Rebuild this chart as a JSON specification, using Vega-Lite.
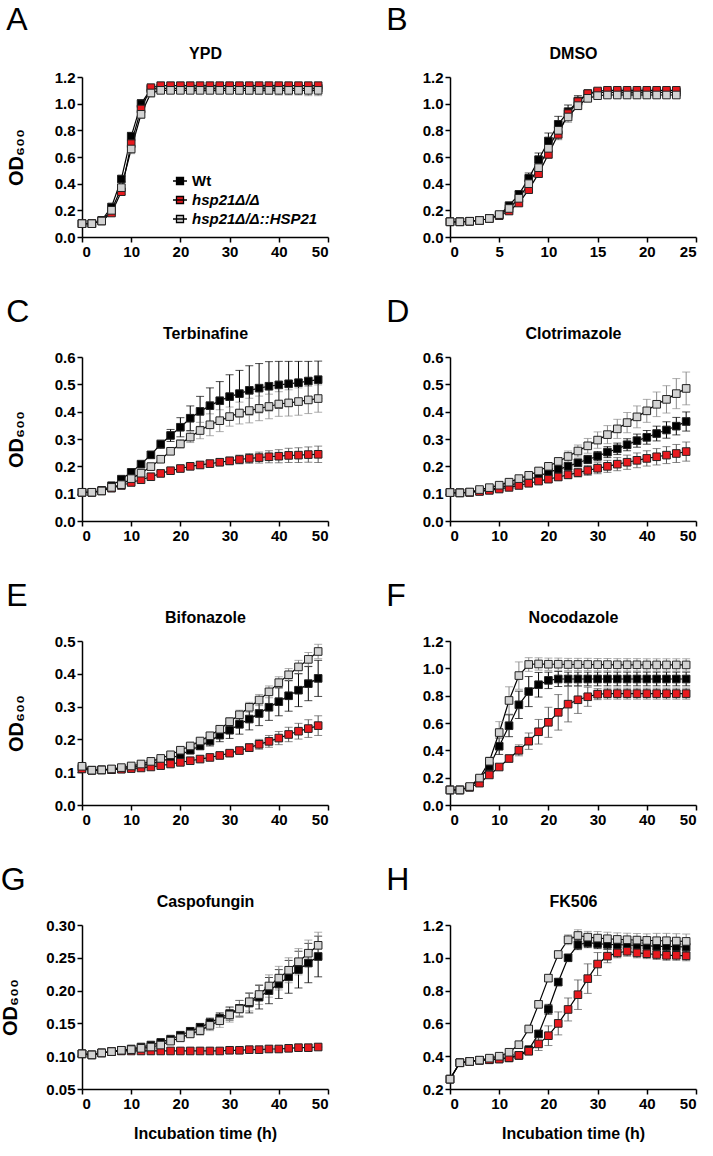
{
"$schema": "https://vega.github.io/schema/vega-lite/v6.json",
"padding": {"left": 0, "top": 4, "right": 4, "bottom": 4},
"config": {
 "font": "Liberation Sans",
 "view": {"stroke": null},
 "axis": {"grid": false, "domainColor": "#000", "domainWidth": 1.5, "tickColor": "#000", "tickWidth": 1.5, "tickSize": 5, "labelFont": "Liberation Sans", "labelFontSize": 15, "labelFontWeight": "bold", "labelColor": "#000", "labelPadding": 2, "titleFont": "Liberation Sans", "titleFontWeight": "bold", "titleColor": "#000"},
 "title": {"font": "Liberation Sans", "fontSize": 32, "fontWeight": "normal", "color": "#000", "anchor": "start", "frame": "bounds", "offset": 0},
 "tick": {"bandSize": 8, "thickness": 1}
},
"resolve": {"scale": {"fill": "independent", "color": "independent"}, "legend": {"fill": "independent", "color": "independent"}},
"data": {"values": [
{"p":"A","s":"W","t":0,"m":0.1,"e":0},{"p":"A","s":"W","t":2,"m":0.1,"e":0},{"p":"A","s":"W","t":4,"m":0.125,"e":0.005},{"p":"A","s":"W","t":6,"m":0.225,"e":0.01},{"p":"A","s":"W","t":8,"m":0.435,"e":0.02},{"p":"A","s":"W","t":10,"m":0.755,"e":0.03},{"p":"A","s":"W","t":12,"m":1.0,"e":0.03},{"p":"A","s":"W","t":14,"m":1.11,"e":0.02},{"p":"A","s":"W","t":16,"m":1.115,"e":0.01},{"p":"A","s":"W","t":18,"m":1.115,"e":0.01},{"p":"A","s":"W","t":20,"m":1.115,"e":0.01},{"p":"A","s":"W","t":22,"m":1.115,"e":0.01},{"p":"A","s":"W","t":24,"m":1.115,"e":0.01},{"p":"A","s":"W","t":26,"m":1.115,"e":0.01},{"p":"A","s":"W","t":28,"m":1.115,"e":0.012},{"p":"A","s":"W","t":30,"m":1.115,"e":0.012},{"p":"A","s":"W","t":32,"m":1.115,"e":0.014},{"p":"A","s":"W","t":34,"m":1.115,"e":0.014},{"p":"A","s":"W","t":36,"m":1.115,"e":0.015},{"p":"A","s":"W","t":38,"m":1.115,"e":0.015},{"p":"A","s":"W","t":40,"m":1.115,"e":0.016},{"p":"A","s":"W","t":42,"m":1.115,"e":0.016},{"p":"A","s":"W","t":44,"m":1.115,"e":0.018},{"p":"A","s":"W","t":46,"m":1.115,"e":0.018},{"p":"A","s":"W","t":48,"m":1.115,"e":0.02},
{"p":"A","s":"R","t":0,"m":0.1,"e":0},{"p":"A","s":"R","t":2,"m":0.1,"e":0},{"p":"A","s":"R","t":4,"m":0.12,"e":0.005},{"p":"A","s":"R","t":6,"m":0.18,"e":0.01},{"p":"A","s":"R","t":8,"m":0.34,"e":0.02},{"p":"A","s":"R","t":10,"m":0.7,"e":0.03},{"p":"A","s":"R","t":12,"m":0.96,"e":0.03},{"p":"A","s":"R","t":14,"m":1.12,"e":0.02},{"p":"A","s":"R","t":16,"m":1.135,"e":0.01},{"p":"A","s":"R","t":18,"m":1.135,"e":0.01},{"p":"A","s":"R","t":20,"m":1.135,"e":0.01},{"p":"A","s":"R","t":22,"m":1.135,"e":0.01},{"p":"A","s":"R","t":24,"m":1.135,"e":0.01},{"p":"A","s":"R","t":26,"m":1.135,"e":0.01},{"p":"A","s":"R","t":28,"m":1.135,"e":0.01},{"p":"A","s":"R","t":30,"m":1.135,"e":0.01},{"p":"A","s":"R","t":32,"m":1.135,"e":0.01},{"p":"A","s":"R","t":34,"m":1.135,"e":0.01},{"p":"A","s":"R","t":36,"m":1.135,"e":0.01},{"p":"A","s":"R","t":38,"m":1.135,"e":0.01},{"p":"A","s":"R","t":40,"m":1.135,"e":0.01},{"p":"A","s":"R","t":42,"m":1.135,"e":0.01},{"p":"A","s":"R","t":44,"m":1.135,"e":0.01},{"p":"A","s":"R","t":46,"m":1.135,"e":0.01},{"p":"A","s":"R","t":48,"m":1.135,"e":0.01},
{"p":"A","s":"G","t":0,"m":0.1,"e":0},{"p":"A","s":"G","t":2,"m":0.1,"e":0},{"p":"A","s":"G","t":4,"m":0.12,"e":0.005},{"p":"A","s":"G","t":6,"m":0.2,"e":0.015},{"p":"A","s":"G","t":8,"m":0.37,"e":0.02},{"p":"A","s":"G","t":10,"m":0.66,"e":0.035},{"p":"A","s":"G","t":12,"m":0.92,"e":0.03},{"p":"A","s":"G","t":14,"m":1.08,"e":0.03},{"p":"A","s":"G","t":16,"m":1.1,"e":0.02},{"p":"A","s":"G","t":18,"m":1.1,"e":0.02},{"p":"A","s":"G","t":20,"m":1.1,"e":0.02},{"p":"A","s":"G","t":22,"m":1.1,"e":0.02},{"p":"A","s":"G","t":24,"m":1.1,"e":0.02},{"p":"A","s":"G","t":26,"m":1.1,"e":0.025},{"p":"A","s":"G","t":28,"m":1.1,"e":0.025},{"p":"A","s":"G","t":30,"m":1.1,"e":0.025},{"p":"A","s":"G","t":32,"m":1.1,"e":0.03},{"p":"A","s":"G","t":34,"m":1.1,"e":0.03},{"p":"A","s":"G","t":36,"m":1.1,"e":0.03},{"p":"A","s":"G","t":38,"m":1.1,"e":0.03},{"p":"A","s":"G","t":40,"m":1.1,"e":0.035},{"p":"A","s":"G","t":42,"m":1.1,"e":0.035},{"p":"A","s":"G","t":44,"m":1.1,"e":0.035},{"p":"A","s":"G","t":46,"m":1.1,"e":0.04},{"p":"A","s":"G","t":48,"m":1.1,"e":0.04},

{"p":"B","s":"W","t":0,"m":0.114,"e":0},{"p":"B","s":"W","t":1,"m":0.114,"e":0},{"p":"B","s":"W","t":2,"m":0.118,"e":0},{"p":"B","s":"W","t":3,"m":0.124,"e":0},{"p":"B","s":"W","t":4,"m":0.139,"e":0.005},{"p":"B","s":"W","t":5,"m":0.165,"e":0.01},{"p":"B","s":"W","t":6,"m":0.235,"e":0.015},{"p":"B","s":"W","t":7,"m":0.32,"e":0.02},{"p":"B","s":"W","t":8,"m":0.44,"e":0.04},{"p":"B","s":"W","t":9,"m":0.58,"e":0.05},{"p":"B","s":"W","t":10,"m":0.72,"e":0.06},{"p":"B","s":"W","t":11,"m":0.845,"e":0.06},{"p":"B","s":"W","t":12,"m":0.94,"e":0.05},{"p":"B","s":"W","t":13,"m":1.02,"e":0.04},{"p":"B","s":"W","t":14,"m":1.075,"e":0.02},{"p":"B","s":"W","t":15,"m":1.085,"e":0.01},{"p":"B","s":"W","t":16,"m":1.085,"e":0.01},{"p":"B","s":"W","t":17,"m":1.085,"e":0.01},{"p":"B","s":"W","t":18,"m":1.085,"e":0.01},{"p":"B","s":"W","t":19,"m":1.085,"e":0.01},{"p":"B","s":"W","t":20,"m":1.085,"e":0.01},{"p":"B","s":"W","t":21,"m":1.085,"e":0.01},{"p":"B","s":"W","t":22,"m":1.085,"e":0.01},{"p":"B","s":"W","t":23,"m":1.085,"e":0.01},
{"p":"B","s":"R","t":0,"m":0.114,"e":0},{"p":"B","s":"R","t":1,"m":0.114,"e":0},{"p":"B","s":"R","t":2,"m":0.118,"e":0},{"p":"B","s":"R","t":3,"m":0.124,"e":0},{"p":"B","s":"R","t":4,"m":0.139,"e":0.005},{"p":"B","s":"R","t":5,"m":0.16,"e":0.01},{"p":"B","s":"R","t":6,"m":0.195,"e":0.01},{"p":"B","s":"R","t":7,"m":0.255,"e":0.015},{"p":"B","s":"R","t":8,"m":0.355,"e":0.02},{"p":"B","s":"R","t":9,"m":0.475,"e":0.025},{"p":"B","s":"R","t":10,"m":0.62,"e":0.03},{"p":"B","s":"R","t":11,"m":0.77,"e":0.04},{"p":"B","s":"R","t":12,"m":0.925,"e":0.03},{"p":"B","s":"R","t":13,"m":1.015,"e":0.02},{"p":"B","s":"R","t":14,"m":1.075,"e":0.01},{"p":"B","s":"R","t":15,"m":1.095,"e":0.01},{"p":"B","s":"R","t":16,"m":1.1,"e":0.01},{"p":"B","s":"R","t":17,"m":1.1,"e":0.01},{"p":"B","s":"R","t":18,"m":1.1,"e":0.01},{"p":"B","s":"R","t":19,"m":1.1,"e":0.01},{"p":"B","s":"R","t":20,"m":1.1,"e":0.01},{"p":"B","s":"R","t":21,"m":1.1,"e":0.01},{"p":"B","s":"R","t":22,"m":1.1,"e":0.01},{"p":"B","s":"R","t":23,"m":1.1,"e":0.01},
{"p":"B","s":"G","t":0,"m":0.114,"e":0},{"p":"B","s":"G","t":1,"m":0.114,"e":0},{"p":"B","s":"G","t":2,"m":0.118,"e":0},{"p":"B","s":"G","t":3,"m":0.124,"e":0},{"p":"B","s":"G","t":4,"m":0.139,"e":0.005},{"p":"B","s":"G","t":5,"m":0.168,"e":0.01},{"p":"B","s":"G","t":6,"m":0.214,"e":0.015},{"p":"B","s":"G","t":7,"m":0.29,"e":0.02},{"p":"B","s":"G","t":8,"m":0.4,"e":0.03},{"p":"B","s":"G","t":9,"m":0.52,"e":0.04},{"p":"B","s":"G","t":10,"m":0.665,"e":0.05},{"p":"B","s":"G","t":11,"m":0.8,"e":0.06},{"p":"B","s":"G","t":12,"m":0.9,"e":0.04},{"p":"B","s":"G","t":13,"m":0.985,"e":0.03},{"p":"B","s":"G","t":14,"m":1.04,"e":0.02},{"p":"B","s":"G","t":15,"m":1.06,"e":0.01},{"p":"B","s":"G","t":16,"m":1.065,"e":0.01},{"p":"B","s":"G","t":17,"m":1.065,"e":0.01},{"p":"B","s":"G","t":18,"m":1.065,"e":0.01},{"p":"B","s":"G","t":19,"m":1.065,"e":0.01},{"p":"B","s":"G","t":20,"m":1.065,"e":0.01},{"p":"B","s":"G","t":21,"m":1.065,"e":0.01},{"p":"B","s":"G","t":22,"m":1.065,"e":0.01},{"p":"B","s":"G","t":23,"m":1.065,"e":0.01},

{"p":"C","s":"W","t":0,"m":0.105,"e":0},{"p":"C","s":"W","t":2,"m":0.105,"e":0},{"p":"C","s":"W","t":4,"m":0.112,"e":0.003},{"p":"C","s":"W","t":6,"m":0.129,"e":0.005},{"p":"C","s":"W","t":8,"m":0.153,"e":0.006},{"p":"C","s":"W","t":10,"m":0.178,"e":0.008},{"p":"C","s":"W","t":12,"m":0.208,"e":0.01},{"p":"C","s":"W","t":14,"m":0.242,"e":0.012},{"p":"C","s":"W","t":16,"m":0.281,"e":0.015},{"p":"C","s":"W","t":18,"m":0.313,"e":0.022},{"p":"C","s":"W","t":20,"m":0.343,"e":0.035},{"p":"C","s":"W","t":22,"m":0.376,"e":0.045},{"p":"C","s":"W","t":24,"m":0.401,"e":0.055},{"p":"C","s":"W","t":26,"m":0.422,"e":0.065},{"p":"C","s":"W","t":28,"m":0.44,"e":0.07},{"p":"C","s":"W","t":30,"m":0.455,"e":0.08},{"p":"C","s":"W","t":32,"m":0.466,"e":0.085},{"p":"C","s":"W","t":34,"m":0.478,"e":0.09},{"p":"C","s":"W","t":36,"m":0.486,"e":0.09},{"p":"C","s":"W","t":38,"m":0.493,"e":0.09},{"p":"C","s":"W","t":40,"m":0.498,"e":0.086},{"p":"C","s":"W","t":42,"m":0.502,"e":0.082},{"p":"C","s":"W","t":44,"m":0.506,"e":0.078},{"p":"C","s":"W","t":46,"m":0.512,"e":0.072},{"p":"C","s":"W","t":48,"m":0.517,"e":0.068},
{"p":"C","s":"R","t":0,"m":0.105,"e":0},{"p":"C","s":"R","t":2,"m":0.105,"e":0},{"p":"C","s":"R","t":4,"m":0.11,"e":0},{"p":"C","s":"R","t":6,"m":0.12,"e":0.002},{"p":"C","s":"R","t":8,"m":0.13,"e":0.003},{"p":"C","s":"R","t":10,"m":0.141,"e":0.004},{"p":"C","s":"R","t":12,"m":0.151,"e":0.005},{"p":"C","s":"R","t":14,"m":0.162,"e":0.006},{"p":"C","s":"R","t":16,"m":0.174,"e":0.007},{"p":"C","s":"R","t":18,"m":0.184,"e":0.008},{"p":"C","s":"R","t":20,"m":0.192,"e":0.009},{"p":"C","s":"R","t":22,"m":0.2,"e":0.01},{"p":"C","s":"R","t":24,"m":0.205,"e":0.011},{"p":"C","s":"R","t":26,"m":0.21,"e":0.012},{"p":"C","s":"R","t":28,"m":0.215,"e":0.013},{"p":"C","s":"R","t":30,"m":0.22,"e":0.014},{"p":"C","s":"R","t":32,"m":0.225,"e":0.016},{"p":"C","s":"R","t":34,"m":0.229,"e":0.018},{"p":"C","s":"R","t":36,"m":0.232,"e":0.02},{"p":"C","s":"R","t":38,"m":0.235,"e":0.022},{"p":"C","s":"R","t":40,"m":0.237,"e":0.024},{"p":"C","s":"R","t":42,"m":0.24,"e":0.026},{"p":"C","s":"R","t":44,"m":0.241,"e":0.027},{"p":"C","s":"R","t":46,"m":0.243,"e":0.028},{"p":"C","s":"R","t":48,"m":0.244,"e":0.03},
{"p":"C","s":"G","t":0,"m":0.105,"e":0},{"p":"C","s":"G","t":2,"m":0.105,"e":0},{"p":"C","s":"G","t":4,"m":0.11,"e":0.002},{"p":"C","s":"G","t":6,"m":0.123,"e":0.003},{"p":"C","s":"G","t":8,"m":0.133,"e":0.004},{"p":"C","s":"G","t":10,"m":0.155,"e":0.005},{"p":"C","s":"G","t":12,"m":0.175,"e":0.006},{"p":"C","s":"G","t":14,"m":0.199,"e":0.008},{"p":"C","s":"G","t":16,"m":0.226,"e":0.01},{"p":"C","s":"G","t":18,"m":0.255,"e":0.012},{"p":"C","s":"G","t":20,"m":0.282,"e":0.015},{"p":"C","s":"G","t":22,"m":0.307,"e":0.02},{"p":"C","s":"G","t":24,"m":0.331,"e":0.03},{"p":"C","s":"G","t":26,"m":0.352,"e":0.04},{"p":"C","s":"G","t":28,"m":0.367,"e":0.04},{"p":"C","s":"G","t":30,"m":0.382,"e":0.035},{"p":"C","s":"G","t":32,"m":0.395,"e":0.04},{"p":"C","s":"G","t":34,"m":0.404,"e":0.045},{"p":"C","s":"G","t":36,"m":0.412,"e":0.045},{"p":"C","s":"G","t":38,"m":0.419,"e":0.045},{"p":"C","s":"G","t":40,"m":0.428,"e":0.045},{"p":"C","s":"G","t":42,"m":0.432,"e":0.048},{"p":"C","s":"G","t":44,"m":0.437,"e":0.05},{"p":"C","s":"G","t":46,"m":0.443,"e":0.05},{"p":"C","s":"G","t":48,"m":0.448,"e":0.05},

{"p":"D","s":"W","t":0,"m":0.104,"e":0},{"p":"D","s":"W","t":2,"m":0.103,"e":0},{"p":"D","s":"W","t":4,"m":0.105,"e":0},{"p":"D","s":"W","t":6,"m":0.11,"e":0.002},{"p":"D","s":"W","t":8,"m":0.116,"e":0.003},{"p":"D","s":"W","t":10,"m":0.122,"e":0.004},{"p":"D","s":"W","t":12,"m":0.13,"e":0.005},{"p":"D","s":"W","t":14,"m":0.14,"e":0.006},{"p":"D","s":"W","t":16,"m":0.152,"e":0.007},{"p":"D","s":"W","t":18,"m":0.163,"e":0.008},{"p":"D","s":"W","t":20,"m":0.179,"e":0.01},{"p":"D","s":"W","t":22,"m":0.189,"e":0.011},{"p":"D","s":"W","t":24,"m":0.2,"e":0.012},{"p":"D","s":"W","t":26,"m":0.213,"e":0.013},{"p":"D","s":"W","t":28,"m":0.225,"e":0.015},{"p":"D","s":"W","t":30,"m":0.237,"e":0.017},{"p":"D","s":"W","t":32,"m":0.252,"e":0.02},{"p":"D","s":"W","t":34,"m":0.264,"e":0.021},{"p":"D","s":"W","t":36,"m":0.279,"e":0.022},{"p":"D","s":"W","t":38,"m":0.294,"e":0.024},{"p":"D","s":"W","t":40,"m":0.306,"e":0.025},{"p":"D","s":"W","t":42,"m":0.32,"e":0.027},{"p":"D","s":"W","t":44,"m":0.333,"e":0.03},{"p":"D","s":"W","t":46,"m":0.347,"e":0.032},{"p":"D","s":"W","t":48,"m":0.364,"e":0.035},
{"p":"D","s":"R","t":0,"m":0.104,"e":0},{"p":"D","s":"R","t":2,"m":0.103,"e":0},{"p":"D","s":"R","t":4,"m":0.105,"e":0},{"p":"D","s":"R","t":6,"m":0.108,"e":0.002},{"p":"D","s":"R","t":8,"m":0.112,"e":0.003},{"p":"D","s":"R","t":10,"m":0.117,"e":0.004},{"p":"D","s":"R","t":12,"m":0.123,"e":0.005},{"p":"D","s":"R","t":14,"m":0.13,"e":0.006},{"p":"D","s":"R","t":16,"m":0.138,"e":0.007},{"p":"D","s":"R","t":18,"m":0.146,"e":0.008},{"p":"D","s":"R","t":20,"m":0.153,"e":0.01},{"p":"D","s":"R","t":22,"m":0.161,"e":0.012},{"p":"D","s":"R","t":24,"m":0.169,"e":0.014},{"p":"D","s":"R","t":26,"m":0.177,"e":0.016},{"p":"D","s":"R","t":28,"m":0.185,"e":0.018},{"p":"D","s":"R","t":30,"m":0.193,"e":0.02},{"p":"D","s":"R","t":32,"m":0.2,"e":0.022},{"p":"D","s":"R","t":34,"m":0.208,"e":0.024},{"p":"D","s":"R","t":36,"m":0.215,"e":0.026},{"p":"D","s":"R","t":38,"m":0.222,"e":0.027},{"p":"D","s":"R","t":40,"m":0.229,"e":0.028},{"p":"D","s":"R","t":42,"m":0.235,"e":0.03},{"p":"D","s":"R","t":44,"m":0.241,"e":0.031},{"p":"D","s":"R","t":46,"m":0.247,"e":0.033},{"p":"D","s":"R","t":48,"m":0.254,"e":0.035},
{"p":"D","s":"G","t":0,"m":0.104,"e":0},{"p":"D","s":"G","t":2,"m":0.103,"e":0},{"p":"D","s":"G","t":4,"m":0.106,"e":0},{"p":"D","s":"G","t":6,"m":0.115,"e":0.002},{"p":"D","s":"G","t":8,"m":0.122,"e":0.003},{"p":"D","s":"G","t":10,"m":0.131,"e":0.004},{"p":"D","s":"G","t":12,"m":0.142,"e":0.005},{"p":"D","s":"G","t":14,"m":0.155,"e":0.006},{"p":"D","s":"G","t":16,"m":0.167,"e":0.008},{"p":"D","s":"G","t":18,"m":0.183,"e":0.009},{"p":"D","s":"G","t":20,"m":0.2,"e":0.01},{"p":"D","s":"G","t":22,"m":0.218,"e":0.012},{"p":"D","s":"G","t":24,"m":0.236,"e":0.02},{"p":"D","s":"G","t":26,"m":0.256,"e":0.022},{"p":"D","s":"G","t":28,"m":0.275,"e":0.027},{"p":"D","s":"G","t":30,"m":0.296,"e":0.03},{"p":"D","s":"G","t":32,"m":0.316,"e":0.033},{"p":"D","s":"G","t":34,"m":0.337,"e":0.035},{"p":"D","s":"G","t":36,"m":0.36,"e":0.037},{"p":"D","s":"G","t":38,"m":0.381,"e":0.04},{"p":"D","s":"G","t":40,"m":0.403,"e":0.042},{"p":"D","s":"G","t":42,"m":0.427,"e":0.045},{"p":"D","s":"G","t":44,"m":0.445,"e":0.05},{"p":"D","s":"G","t":46,"m":0.466,"e":0.055},{"p":"D","s":"G","t":48,"m":0.485,"e":0.06},

{"p":"E","s":"W","t":0,"m":0.115,"e":0.003},{"p":"E","s":"W","t":2,"m":0.106,"e":0.002},{"p":"E","s":"W","t":4,"m":0.107,"e":0.002},{"p":"E","s":"W","t":6,"m":0.108,"e":0.002},{"p":"E","s":"W","t":8,"m":0.111,"e":0.003},{"p":"E","s":"W","t":10,"m":0.115,"e":0.003},{"p":"E","s":"W","t":12,"m":0.12,"e":0.004},{"p":"E","s":"W","t":14,"m":0.126,"e":0.005},{"p":"E","s":"W","t":16,"m":0.133,"e":0.006},{"p":"E","s":"W","t":18,"m":0.142,"e":0.007},{"p":"E","s":"W","t":20,"m":0.153,"e":0.008},{"p":"E","s":"W","t":22,"m":0.167,"e":0.009},{"p":"E","s":"W","t":24,"m":0.18,"e":0.01},{"p":"E","s":"W","t":26,"m":0.195,"e":0.015},{"p":"E","s":"W","t":28,"m":0.213,"e":0.02},{"p":"E","s":"W","t":30,"m":0.228,"e":0.025},{"p":"E","s":"W","t":32,"m":0.246,"e":0.03},{"p":"E","s":"W","t":34,"m":0.262,"e":0.033},{"p":"E","s":"W","t":36,"m":0.279,"e":0.037},{"p":"E","s":"W","t":38,"m":0.298,"e":0.04},{"p":"E","s":"W","t":40,"m":0.315,"e":0.043},{"p":"E","s":"W","t":42,"m":0.333,"e":0.047},{"p":"E","s":"W","t":44,"m":0.35,"e":0.05},{"p":"E","s":"W","t":46,"m":0.37,"e":0.052},{"p":"E","s":"W","t":48,"m":0.386,"e":0.055},
{"p":"E","s":"R","t":0,"m":0.11,"e":0.003},{"p":"E","s":"R","t":2,"m":0.106,"e":0.002},{"p":"E","s":"R","t":4,"m":0.107,"e":0.002},{"p":"E","s":"R","t":6,"m":0.108,"e":0.002},{"p":"E","s":"R","t":8,"m":0.109,"e":0.002},{"p":"E","s":"R","t":10,"m":0.111,"e":0.002},{"p":"E","s":"R","t":12,"m":0.113,"e":0.003},{"p":"E","s":"R","t":14,"m":0.116,"e":0.003},{"p":"E","s":"R","t":16,"m":0.12,"e":0.003},{"p":"E","s":"R","t":18,"m":0.125,"e":0.004},{"p":"E","s":"R","t":20,"m":0.13,"e":0.004},{"p":"E","s":"R","t":22,"m":0.135,"e":0.005},{"p":"E","s":"R","t":24,"m":0.14,"e":0.005},{"p":"E","s":"R","t":26,"m":0.145,"e":0.006},{"p":"E","s":"R","t":28,"m":0.151,"e":0.007},{"p":"E","s":"R","t":30,"m":0.158,"e":0.008},{"p":"E","s":"R","t":32,"m":0.166,"e":0.01},{"p":"E","s":"R","t":34,"m":0.175,"e":0.012},{"p":"E","s":"R","t":36,"m":0.185,"e":0.015},{"p":"E","s":"R","t":38,"m":0.194,"e":0.018},{"p":"E","s":"R","t":40,"m":0.204,"e":0.02},{"p":"E","s":"R","t":42,"m":0.215,"e":0.022},{"p":"E","s":"R","t":44,"m":0.225,"e":0.024},{"p":"E","s":"R","t":46,"m":0.233,"e":0.027},{"p":"E","s":"R","t":48,"m":0.242,"e":0.03},
{"p":"E","s":"G","t":0,"m":0.118,"e":0.003},{"p":"E","s":"G","t":2,"m":0.106,"e":0.002},{"p":"E","s":"G","t":4,"m":0.107,"e":0.002},{"p":"E","s":"G","t":6,"m":0.11,"e":0.002},{"p":"E","s":"G","t":8,"m":0.114,"e":0.003},{"p":"E","s":"G","t":10,"m":0.119,"e":0.003},{"p":"E","s":"G","t":12,"m":0.125,"e":0.004},{"p":"E","s":"G","t":14,"m":0.133,"e":0.004},{"p":"E","s":"G","t":16,"m":0.142,"e":0.005},{"p":"E","s":"G","t":18,"m":0.153,"e":0.006},{"p":"E","s":"G","t":20,"m":0.167,"e":0.006},{"p":"E","s":"G","t":22,"m":0.18,"e":0.007},{"p":"E","s":"G","t":24,"m":0.195,"e":0.008},{"p":"E","s":"G","t":26,"m":0.211,"e":0.009},{"p":"E","s":"G","t":28,"m":0.231,"e":0.01},{"p":"E","s":"G","t":30,"m":0.254,"e":0.012},{"p":"E","s":"G","t":32,"m":0.275,"e":0.014},{"p":"E","s":"G","t":34,"m":0.298,"e":0.015},{"p":"E","s":"G","t":36,"m":0.32,"e":0.017},{"p":"E","s":"G","t":38,"m":0.345,"e":0.018},{"p":"E","s":"G","t":40,"m":0.373,"e":0.018},{"p":"E","s":"G","t":42,"m":0.397,"e":0.019},{"p":"E","s":"G","t":44,"m":0.421,"e":0.02},{"p":"E","s":"G","t":46,"m":0.444,"e":0.021},{"p":"E","s":"G","t":48,"m":0.468,"e":0.022},

{"p":"F","s":"W","t":0,"m":0.11,"e":0.005},{"p":"F","s":"W","t":2,"m":0.11,"e":0.005},{"p":"F","s":"W","t":4,"m":0.13,"e":0.01},{"p":"F","s":"W","t":6,"m":0.19,"e":0.015},{"p":"F","s":"W","t":8,"m":0.283,"e":0.03},{"p":"F","s":"W","t":10,"m":0.43,"e":0.06},{"p":"F","s":"W","t":12,"m":0.58,"e":0.08},{"p":"F","s":"W","t":14,"m":0.733,"e":0.1},{"p":"F","s":"W","t":16,"m":0.83,"e":0.11},{"p":"F","s":"W","t":18,"m":0.88,"e":0.09},{"p":"F","s":"W","t":20,"m":0.912,"e":0.06},{"p":"F","s":"W","t":22,"m":0.922,"e":0.055},{"p":"F","s":"W","t":24,"m":0.922,"e":0.05},{"p":"F","s":"W","t":26,"m":0.922,"e":0.05},{"p":"F","s":"W","t":28,"m":0.922,"e":0.05},{"p":"F","s":"W","t":30,"m":0.922,"e":0.05},{"p":"F","s":"W","t":32,"m":0.922,"e":0.05},{"p":"F","s":"W","t":34,"m":0.922,"e":0.05},{"p":"F","s":"W","t":36,"m":0.922,"e":0.05},{"p":"F","s":"W","t":38,"m":0.922,"e":0.05},{"p":"F","s":"W","t":40,"m":0.922,"e":0.05},{"p":"F","s":"W","t":42,"m":0.922,"e":0.05},{"p":"F","s":"W","t":44,"m":0.922,"e":0.05},{"p":"F","s":"W","t":46,"m":0.922,"e":0.05},{"p":"F","s":"W","t":48,"m":0.922,"e":0.05},
{"p":"F","s":"R","t":0,"m":0.11,"e":0.005},{"p":"F","s":"R","t":2,"m":0.11,"e":0.005},{"p":"F","s":"R","t":4,"m":0.13,"e":0.008},{"p":"F","s":"R","t":6,"m":0.16,"e":0.01},{"p":"F","s":"R","t":8,"m":0.22,"e":0.012},{"p":"F","s":"R","t":10,"m":0.278,"e":0.015},{"p":"F","s":"R","t":12,"m":0.34,"e":0.02},{"p":"F","s":"R","t":14,"m":0.4,"e":0.04},{"p":"F","s":"R","t":16,"m":0.467,"e":0.06},{"p":"F","s":"R","t":18,"m":0.536,"e":0.09},{"p":"F","s":"R","t":20,"m":0.605,"e":0.11},{"p":"F","s":"R","t":22,"m":0.678,"e":0.13},{"p":"F","s":"R","t":24,"m":0.738,"e":0.13},{"p":"F","s":"R","t":26,"m":0.77,"e":0.1},{"p":"F","s":"R","t":28,"m":0.792,"e":0.07},{"p":"F","s":"R","t":30,"m":0.811,"e":0.04},{"p":"F","s":"R","t":32,"m":0.815,"e":0.04},{"p":"F","s":"R","t":34,"m":0.815,"e":0.04},{"p":"F","s":"R","t":36,"m":0.815,"e":0.04},{"p":"F","s":"R","t":38,"m":0.815,"e":0.04},{"p":"F","s":"R","t":40,"m":0.815,"e":0.04},{"p":"F","s":"R","t":42,"m":0.815,"e":0.04},{"p":"F","s":"R","t":44,"m":0.815,"e":0.04},{"p":"F","s":"R","t":46,"m":0.815,"e":0.04},{"p":"F","s":"R","t":48,"m":0.815,"e":0.04},
{"p":"F","s":"G","t":0,"m":0.11,"e":0.005},{"p":"F","s":"G","t":2,"m":0.11,"e":0.005},{"p":"F","s":"G","t":4,"m":0.135,"e":0.01},{"p":"F","s":"G","t":6,"m":0.197,"e":0.015},{"p":"F","s":"G","t":8,"m":0.32,"e":0.03},{"p":"F","s":"G","t":10,"m":0.53,"e":0.08},{"p":"F","s":"G","t":12,"m":0.765,"e":0.1},{"p":"F","s":"G","t":14,"m":0.947,"e":0.1},{"p":"F","s":"G","t":16,"m":1.028,"e":0.05},{"p":"F","s":"G","t":18,"m":1.032,"e":0.045},{"p":"F","s":"G","t":20,"m":1.03,"e":0.045},{"p":"F","s":"G","t":22,"m":1.03,"e":0.045},{"p":"F","s":"G","t":24,"m":1.028,"e":0.045},{"p":"F","s":"G","t":26,"m":1.028,"e":0.045},{"p":"F","s":"G","t":28,"m":1.028,"e":0.045},{"p":"F","s":"G","t":30,"m":1.027,"e":0.045},{"p":"F","s":"G","t":32,"m":1.027,"e":0.045},{"p":"F","s":"G","t":34,"m":1.026,"e":0.045},{"p":"F","s":"G","t":36,"m":1.026,"e":0.045},{"p":"F","s":"G","t":38,"m":1.026,"e":0.045},{"p":"F","s":"G","t":40,"m":1.025,"e":0.045},{"p":"F","s":"G","t":42,"m":1.025,"e":0.045},{"p":"F","s":"G","t":44,"m":1.025,"e":0.045},{"p":"F","s":"G","t":46,"m":1.025,"e":0.045},{"p":"F","s":"G","t":48,"m":1.025,"e":0.045},

{"p":"G","s":"W","t":0,"m":0.1036,"e":0.001},{"p":"G","s":"W","t":2,"m":0.102,"e":0.001},{"p":"G","s":"W","t":4,"m":0.105,"e":0.001},{"p":"G","s":"W","t":6,"m":0.107,"e":0.001},{"p":"G","s":"W","t":8,"m":0.109,"e":0.001},{"p":"G","s":"W","t":10,"m":0.111,"e":0.002},{"p":"G","s":"W","t":12,"m":0.114,"e":0.002},{"p":"G","s":"W","t":14,"m":0.117,"e":0.002},{"p":"G","s":"W","t":16,"m":0.121,"e":0.003},{"p":"G","s":"W","t":18,"m":0.126,"e":0.003},{"p":"G","s":"W","t":20,"m":0.132,"e":0.004},{"p":"G","s":"W","t":22,"m":0.138,"e":0.005},{"p":"G","s":"W","t":24,"m":0.144,"e":0.006},{"p":"G","s":"W","t":26,"m":0.151,"e":0.007},{"p":"G","s":"W","t":28,"m":0.158,"e":0.008},{"p":"G","s":"W","t":30,"m":0.165,"e":0.01},{"p":"G","s":"W","t":32,"m":0.173,"e":0.012},{"p":"G","s":"W","t":34,"m":0.181,"e":0.015},{"p":"G","s":"W","t":36,"m":0.19,"e":0.018},{"p":"G","s":"W","t":38,"m":0.2,"e":0.02},{"p":"G","s":"W","t":40,"m":0.21,"e":0.022},{"p":"G","s":"W","t":42,"m":0.221,"e":0.025},{"p":"G","s":"W","t":44,"m":0.232,"e":0.028},{"p":"G","s":"W","t":46,"m":0.242,"e":0.03},{"p":"G","s":"W","t":48,"m":0.252,"e":0.031},
{"p":"G","s":"R","t":0,"m":0.1036,"e":0.001},{"p":"G","s":"R","t":2,"m":0.102,"e":0.001},{"p":"G","s":"R","t":4,"m":0.105,"e":0.001},{"p":"G","s":"R","t":6,"m":0.107,"e":0.001},{"p":"G","s":"R","t":8,"m":0.108,"e":0.001},{"p":"G","s":"R","t":10,"m":0.108,"e":0.001},{"p":"G","s":"R","t":12,"m":0.108,"e":0.001},{"p":"G","s":"R","t":14,"m":0.108,"e":0.001},{"p":"G","s":"R","t":16,"m":0.108,"e":0.001},{"p":"G","s":"R","t":18,"m":0.108,"e":0.001},{"p":"G","s":"R","t":20,"m":0.108,"e":0.001},{"p":"G","s":"R","t":22,"m":0.108,"e":0.001},{"p":"G","s":"R","t":24,"m":0.108,"e":0.001},{"p":"G","s":"R","t":26,"m":0.108,"e":0.001},{"p":"G","s":"R","t":28,"m":0.108,"e":0.001},{"p":"G","s":"R","t":30,"m":0.109,"e":0.001},{"p":"G","s":"R","t":32,"m":0.109,"e":0.001},{"p":"G","s":"R","t":34,"m":0.11,"e":0.001},{"p":"G","s":"R","t":36,"m":0.11,"e":0.001},{"p":"G","s":"R","t":38,"m":0.111,"e":0.001},{"p":"G","s":"R","t":40,"m":0.111,"e":0.001},{"p":"G","s":"R","t":42,"m":0.112,"e":0.001},{"p":"G","s":"R","t":44,"m":0.113,"e":0.001},{"p":"G","s":"R","t":46,"m":0.113,"e":0.001},{"p":"G","s":"R","t":48,"m":0.114,"e":0.001},
{"p":"G","s":"G","t":0,"m":0.1036,"e":0.001},{"p":"G","s":"G","t":2,"m":0.102,"e":0.001},{"p":"G","s":"G","t":4,"m":0.105,"e":0.001},{"p":"G","s":"G","t":6,"m":0.107,"e":0.001},{"p":"G","s":"G","t":8,"m":0.109,"e":0.001},{"p":"G","s":"G","t":10,"m":0.11,"e":0.002},{"p":"G","s":"G","t":12,"m":0.112,"e":0.002},{"p":"G","s":"G","t":14,"m":0.114,"e":0.002},{"p":"G","s":"G","t":16,"m":0.117,"e":0.003},{"p":"G","s":"G","t":18,"m":0.123,"e":0.003},{"p":"G","s":"G","t":20,"m":0.128,"e":0.004},{"p":"G","s":"G","t":22,"m":0.134,"e":0.005},{"p":"G","s":"G","t":24,"m":0.139,"e":0.007},{"p":"G","s":"G","t":26,"m":0.147,"e":0.008},{"p":"G","s":"G","t":28,"m":0.154,"e":0.01},{"p":"G","s":"G","t":30,"m":0.163,"e":0.011},{"p":"G","s":"G","t":32,"m":0.172,"e":0.013},{"p":"G","s":"G","t":34,"m":0.183,"e":0.014},{"p":"G","s":"G","t":36,"m":0.194,"e":0.015},{"p":"G","s":"G","t":38,"m":0.207,"e":0.017},{"p":"G","s":"G","t":40,"m":0.219,"e":0.018},{"p":"G","s":"G","t":42,"m":0.231,"e":0.019},{"p":"G","s":"G","t":44,"m":0.244,"e":0.02},{"p":"G","s":"G","t":46,"m":0.257,"e":0.02},{"p":"G","s":"G","t":48,"m":0.269,"e":0.02},

{"p":"H","s":"W","t":0,"m":0.26,"e":0.01},{"p":"H","s":"W","t":2,"m":0.36,"e":0.01},{"p":"H","s":"W","t":4,"m":0.368,"e":0.005},{"p":"H","s":"W","t":6,"m":0.375,"e":0.005},{"p":"H","s":"W","t":8,"m":0.38,"e":0.005},{"p":"H","s":"W","t":10,"m":0.385,"e":0.008},{"p":"H","s":"W","t":12,"m":0.39,"e":0.01},{"p":"H","s":"W","t":14,"m":0.405,"e":0.01},{"p":"H","s":"W","t":16,"m":0.44,"e":0.01},{"p":"H","s":"W","t":18,"m":0.536,"e":0.02},{"p":"H","s":"W","t":20,"m":0.686,"e":0.03},{"p":"H","s":"W","t":22,"m":0.852,"e":0.02},{"p":"H","s":"W","t":24,"m":1.0,"e":0.02},{"p":"H","s":"W","t":26,"m":1.08,"e":0.03},{"p":"H","s":"W","t":28,"m":1.092,"e":0.03},{"p":"H","s":"W","t":30,"m":1.086,"e":0.03},{"p":"H","s":"W","t":32,"m":1.082,"e":0.03},{"p":"H","s":"W","t":34,"m":1.08,"e":0.03},{"p":"H","s":"W","t":36,"m":1.078,"e":0.03},{"p":"H","s":"W","t":38,"m":1.076,"e":0.03},{"p":"H","s":"W","t":40,"m":1.074,"e":0.03},{"p":"H","s":"W","t":42,"m":1.07,"e":0.03},{"p":"H","s":"W","t":44,"m":1.07,"e":0.03},{"p":"H","s":"W","t":46,"m":1.068,"e":0.03},{"p":"H","s":"W","t":48,"m":1.066,"e":0.03},
{"p":"H","s":"R","t":0,"m":0.26,"e":0.01},{"p":"H","s":"R","t":2,"m":0.36,"e":0.01},{"p":"H","s":"R","t":4,"m":0.368,"e":0.005},{"p":"H","s":"R","t":6,"m":0.375,"e":0.005},{"p":"H","s":"R","t":8,"m":0.378,"e":0.005},{"p":"H","s":"R","t":10,"m":0.382,"e":0.008},{"p":"H","s":"R","t":12,"m":0.39,"e":0.01},{"p":"H","s":"R","t":14,"m":0.405,"e":0.01},{"p":"H","s":"R","t":16,"m":0.43,"e":0.02},{"p":"H","s":"R","t":18,"m":0.475,"e":0.04},{"p":"H","s":"R","t":20,"m":0.525,"e":0.06},{"p":"H","s":"R","t":22,"m":0.6,"e":0.07},{"p":"H","s":"R","t":24,"m":0.685,"e":0.07},{"p":"H","s":"R","t":26,"m":0.775,"e":0.09},{"p":"H","s":"R","t":28,"m":0.873,"e":0.09},{"p":"H","s":"R","t":30,"m":0.962,"e":0.07},{"p":"H","s":"R","t":32,"m":1.01,"e":0.04},{"p":"H","s":"R","t":34,"m":1.03,"e":0.03},{"p":"H","s":"R","t":36,"m":1.04,"e":0.03},{"p":"H","s":"R","t":38,"m":1.03,"e":0.03},{"p":"H","s":"R","t":40,"m":1.025,"e":0.03},{"p":"H","s":"R","t":42,"m":1.02,"e":0.03},{"p":"H","s":"R","t":44,"m":1.015,"e":0.03},{"p":"H","s":"R","t":46,"m":1.015,"e":0.03},{"p":"H","s":"R","t":48,"m":1.012,"e":0.03},
{"p":"H","s":"G","t":0,"m":0.26,"e":0.01},{"p":"H","s":"G","t":2,"m":0.36,"e":0.01},{"p":"H","s":"G","t":4,"m":0.368,"e":0.005},{"p":"H","s":"G","t":6,"m":0.376,"e":0.005},{"p":"H","s":"G","t":8,"m":0.388,"e":0.005},{"p":"H","s":"G","t":10,"m":0.4,"e":0.008},{"p":"H","s":"G","t":12,"m":0.424,"e":0.01},{"p":"H","s":"G","t":14,"m":0.47,"e":0.01},{"p":"H","s":"G","t":16,"m":0.566,"e":0.01},{"p":"H","s":"G","t":18,"m":0.716,"e":0.02},{"p":"H","s":"G","t":20,"m":0.876,"e":0.02},{"p":"H","s":"G","t":22,"m":1.02,"e":0.02},{"p":"H","s":"G","t":24,"m":1.11,"e":0.03},{"p":"H","s":"G","t":26,"m":1.136,"e":0.035},{"p":"H","s":"G","t":28,"m":1.126,"e":0.035},{"p":"H","s":"G","t":30,"m":1.12,"e":0.04},{"p":"H","s":"G","t":32,"m":1.116,"e":0.04},{"p":"H","s":"G","t":34,"m":1.112,"e":0.04},{"p":"H","s":"G","t":36,"m":1.11,"e":0.04},{"p":"H","s":"G","t":38,"m":1.108,"e":0.04},{"p":"H","s":"G","t":40,"m":1.106,"e":0.04},{"p":"H","s":"G","t":42,"m":1.104,"e":0.045},{"p":"H","s":"G","t":44,"m":1.104,"e":0.045},{"p":"H","s":"G","t":46,"m":1.102,"e":0.045},{"p":"H","s":"G","t":48,"m":1.1,"e":0.045}
]},
"columns": 2,
"spacing": {"row": 37, "column": 57},
"concat": [
{"width": 246, "height": 160,
 "title": {"text": "A", "dx": 0, "dy": -4},
 "transform": [{"filter": "datum.p === 'A'"}],
 "resolve": {"axis": {"x": "independent"}},
 "encoding": {"y": {"field": "m", "type": "quantitative", "scale": {"domain": [0, 1.2], "nice": false, "zero": false}, "axis": {"values": [0,0.2,0.4,0.6,0.8,1.0,1.2], "format": ".1f", "title": "OD₆₀₀", "titleFontSize": 20, "titlePadding": 28}}},
 "layer": [
  {"mark": {"type": "line", "color": "#000", "strokeWidth": 1.2}, "encoding": {"x": {"field": "t", "type": "quantitative", "scale": {"domain": [0, 50], "nice": false}, "axis": {"orient": "bottom", "values": [0,10,20,30,40,50], "title": null}}, "detail": {"field": "s"}}},
  {"transform": [{"filter": "datum.e > 0"}], "mark": {"type": "errorbar", "ticks": {"size": 8}, "thickness": 1}, "encoding": {"x": {"field": "t", "type": "quantitative", "scale": {"domain": [0, 50], "nice": false}, "axis": null}, "yError": {"field": "e"}, "color": {"field": "s", "type": "nominal", "scale": {"domain": ["G","R","W"], "range": ["#8a8a8a","#555555","#000000"]}, "legend": null}}},
  {"mark": {"type": "point", "shape": "square", "filled": true, "size": 58, "opacity": 1, "stroke": "#222", "strokeWidth": 1},
   "encoding": {"x": {"field": "t", "type": "quantitative", "scale": {"domain": [0, 50], "nice": false}, "axis": {"orient": "top", "title": "YPD", "domain": false, "ticks": false, "labels": false, "titleFontSize": 16, "titlePadding": 16}},
    "fill": {"field": "s", "type": "nominal", "scale": {"domain": ["W","R","G"], "range": ["#000000","#e8191e","#d3d3d3"]},
     "legend": {"title": null, "orient": "bottom-right", "offset": 10, "labelFont": "Liberation Sans", "labelFontSize": 15, "labelFontWeight": "bold", "labelColor": "#000", "symbolType": "M-1,0H1M-0.5,-0.5H0.5V0.5H-0.5Z", "symbolSize": 196, "symbolStrokeColor": "#000", "symbolStrokeWidth": 1.3, "rowPadding": 3,
      "labelExpr": "datum.value === 'W' ? 'Wt' : datum.value === 'R' ? 'hsp21Δ/Δ' : 'hsp21Δ/Δ::HSP21'",
      "labelFontStyle": {"expr": "datum.value === 'W' ? 'normal' : 'italic'"}}}}}
 ]},
{"width": 246, "height": 160,
 "title": {"text": "B", "dx": -36, "dy": -4},
 "transform": [{"filter": "datum.p === 'B'"}],
 "resolve": {"axis": {"x": "independent"}},
 "encoding": {"y": {"field": "m", "type": "quantitative", "scale": {"domain": [0, 1.2], "nice": false, "zero": false}, "axis": {"values": [0,0.2,0.4,0.6,0.8,1.0,1.2], "format": ".1f", "title": null}}},
 "layer": [
  {"mark": {"type": "line", "color": "#000", "strokeWidth": 1.2}, "encoding": {"x": {"field": "t", "type": "quantitative", "scale": {"domain": [0, 25], "nice": false}, "axis": {"orient": "bottom", "values": [0,5,10,15,20,25], "title": null}}, "detail": {"field": "s"}}},
  {"transform": [{"filter": "datum.e > 0"}], "mark": {"type": "errorbar", "ticks": {"size": 8}, "thickness": 1}, "encoding": {"x": {"field": "t", "type": "quantitative", "scale": {"domain": [0, 25], "nice": false}, "axis": null}, "yError": {"field": "e"}, "color": {"field": "s", "type": "nominal", "scale": {"domain": ["G","R","W"], "range": ["#8a8a8a","#555555","#000000"]}, "legend": null}}},
  {"mark": {"type": "point", "shape": "square", "filled": true, "size": 58, "opacity": 1, "stroke": "#222", "strokeWidth": 1},
   "encoding": {"x": {"field": "t", "type": "quantitative", "scale": {"domain": [0, 25], "nice": false}, "axis": {"orient": "top", "title": "DMSO", "domain": false, "ticks": false, "labels": false, "titleFontSize": 16, "titlePadding": 16}},
    "fill": {"field": "s", "type": "nominal", "scale": {"domain": ["W","R","G"], "range": ["#000000","#e8191e","#d3d3d3"]}, "legend": null}}}
 ]},
{"width": 246, "height": 164,
 "title": {"text": "C", "dx": 0, "dy": 8},
 "transform": [{"filter": "datum.p === 'C'"}],
 "resolve": {"axis": {"x": "independent"}},
 "encoding": {"y": {"field": "m", "type": "quantitative", "scale": {"domain": [0, 0.6], "nice": false, "zero": false}, "axis": {"values": [0,0.1,0.2,0.3,0.4,0.5,0.6], "format": ".1f", "title": "OD₆₀₀", "titleFontSize": 20, "titlePadding": 28}}},
 "layer": [
  {"mark": {"type": "line", "color": "#000", "strokeWidth": 1.2}, "encoding": {"x": {"field": "t", "type": "quantitative", "scale": {"domain": [0, 50], "nice": false}, "axis": {"orient": "bottom", "values": [0,10,20,30,40,50], "title": null}}, "detail": {"field": "s"}}},
  {"transform": [{"filter": "datum.e > 0"}], "mark": {"type": "errorbar", "ticks": {"size": 8}, "thickness": 1}, "encoding": {"x": {"field": "t", "type": "quantitative", "scale": {"domain": [0, 50], "nice": false}, "axis": null}, "yError": {"field": "e"}, "color": {"field": "s", "type": "nominal", "scale": {"domain": ["G","R","W"], "range": ["#8a8a8a","#555555","#000000"]}, "legend": null}}},
  {"mark": {"type": "point", "shape": "square", "filled": true, "size": 58, "opacity": 1, "stroke": "#222", "strokeWidth": 1},
   "encoding": {"x": {"field": "t", "type": "quantitative", "scale": {"domain": [0, 50], "nice": false}, "axis": {"orient": "top", "title": "Terbinafine", "domain": false, "ticks": false, "labels": false, "titleFontSize": 16, "titlePadding": 16}},
    "fill": {"field": "s", "type": "nominal", "scale": {"domain": ["W","R","G"], "range": ["#000000","#e8191e","#d3d3d3"]}, "legend": null}}}
 ]},
{"width": 246, "height": 164,
 "title": {"text": "D", "dx": -36, "dy": 8},
 "transform": [{"filter": "datum.p === 'D'"}],
 "resolve": {"axis": {"x": "independent"}},
 "encoding": {"y": {"field": "m", "type": "quantitative", "scale": {"domain": [0, 0.6], "nice": false, "zero": false}, "axis": {"values": [0,0.1,0.2,0.3,0.4,0.5,0.6], "format": ".1f", "title": null}}},
 "layer": [
  {"mark": {"type": "line", "color": "#000", "strokeWidth": 1.2}, "encoding": {"x": {"field": "t", "type": "quantitative", "scale": {"domain": [0, 50], "nice": false}, "axis": {"orient": "bottom", "values": [0,10,20,30,40,50], "title": null}}, "detail": {"field": "s"}}},
  {"transform": [{"filter": "datum.e > 0"}], "mark": {"type": "errorbar", "ticks": {"size": 8}, "thickness": 1}, "encoding": {"x": {"field": "t", "type": "quantitative", "scale": {"domain": [0, 50], "nice": false}, "axis": null}, "yError": {"field": "e"}, "color": {"field": "s", "type": "nominal", "scale": {"domain": ["G","R","W"], "range": ["#8a8a8a","#555555","#000000"]}, "legend": null}}},
  {"mark": {"type": "point", "shape": "square", "filled": true, "size": 58, "opacity": 1, "stroke": "#222", "strokeWidth": 1},
   "encoding": {"x": {"field": "t", "type": "quantitative", "scale": {"domain": [0, 50], "nice": false}, "axis": {"orient": "top", "title": "Clotrimazole", "domain": false, "ticks": false, "labels": false, "titleFontSize": 16, "titlePadding": 16}},
    "fill": {"field": "s", "type": "nominal", "scale": {"domain": ["W","R","G"], "range": ["#000000","#e8191e","#d3d3d3"]}, "legend": null}}}
 ]},
{"width": 246, "height": 164,
 "title": {"text": "E", "dx": 0, "dy": 8},
 "transform": [{"filter": "datum.p === 'E'"}],
 "resolve": {"axis": {"x": "independent"}},
 "encoding": {"y": {"field": "m", "type": "quantitative", "scale": {"domain": [0, 0.5], "nice": false, "zero": false}, "axis": {"values": [0,0.1,0.2,0.3,0.4,0.5], "format": ".1f", "title": "OD₆₀₀", "titleFontSize": 20, "titlePadding": 28}}},
 "layer": [
  {"mark": {"type": "line", "color": "#000", "strokeWidth": 1.2}, "encoding": {"x": {"field": "t", "type": "quantitative", "scale": {"domain": [0, 50], "nice": false}, "axis": {"orient": "bottom", "values": [0,10,20,30,40,50], "title": null}}, "detail": {"field": "s"}}},
  {"transform": [{"filter": "datum.e > 0"}], "mark": {"type": "errorbar", "ticks": {"size": 8}, "thickness": 1}, "encoding": {"x": {"field": "t", "type": "quantitative", "scale": {"domain": [0, 50], "nice": false}, "axis": null}, "yError": {"field": "e"}, "color": {"field": "s", "type": "nominal", "scale": {"domain": ["G","R","W"], "range": ["#8a8a8a","#555555","#000000"]}, "legend": null}}},
  {"mark": {"type": "point", "shape": "square", "filled": true, "size": 58, "opacity": 1, "stroke": "#222", "strokeWidth": 1},
   "encoding": {"x": {"field": "t", "type": "quantitative", "scale": {"domain": [0, 50], "nice": false}, "axis": {"orient": "top", "title": "Bifonazole", "domain": false, "ticks": false, "labels": false, "titleFontSize": 16, "titlePadding": 16}},
    "fill": {"field": "s", "type": "nominal", "scale": {"domain": ["W","R","G"], "range": ["#000000","#e8191e","#d3d3d3"]}, "legend": null}}}
 ]},
{"width": 246, "height": 164,
 "title": {"text": "F", "dx": -36, "dy": 8},
 "transform": [{"filter": "datum.p === 'F'"}],
 "resolve": {"axis": {"x": "independent"}},
 "encoding": {"y": {"field": "m", "type": "quantitative", "scale": {"domain": [0, 1.2], "nice": false, "zero": false}, "axis": {"values": [0,0.2,0.4,0.6,0.8,1.0,1.2], "format": ".1f", "title": null}}},
 "layer": [
  {"mark": {"type": "line", "color": "#000", "strokeWidth": 1.2}, "encoding": {"x": {"field": "t", "type": "quantitative", "scale": {"domain": [0, 50], "nice": false}, "axis": {"orient": "bottom", "values": [0,10,20,30,40,50], "title": null}}, "detail": {"field": "s"}}},
  {"transform": [{"filter": "datum.e > 0"}], "mark": {"type": "errorbar", "ticks": {"size": 8}, "thickness": 1}, "encoding": {"x": {"field": "t", "type": "quantitative", "scale": {"domain": [0, 50], "nice": false}, "axis": null}, "yError": {"field": "e"}, "color": {"field": "s", "type": "nominal", "scale": {"domain": ["G","R","W"], "range": ["#8a8a8a","#555555","#000000"]}, "legend": null}}},
  {"mark": {"type": "point", "shape": "square", "filled": true, "size": 58, "opacity": 1, "stroke": "#222", "strokeWidth": 1},
   "encoding": {"x": {"field": "t", "type": "quantitative", "scale": {"domain": [0, 50], "nice": false}, "axis": {"orient": "top", "title": "Nocodazole", "domain": false, "ticks": false, "labels": false, "titleFontSize": 16, "titlePadding": 16}},
    "fill": {"field": "s", "type": "nominal", "scale": {"domain": ["W","R","G"], "range": ["#000000","#e8191e","#d3d3d3"]}, "legend": null}}}
 ]},
{"width": 246, "height": 164,
 "title": {"text": "G", "dx": 0, "dy": 8},
 "transform": [{"filter": "datum.p === 'G'"}],
 "resolve": {"axis": {"x": "independent"}},
 "encoding": {"y": {"field": "m", "type": "quantitative", "scale": {"domain": [0.05, 0.3], "nice": false, "zero": false}, "axis": {"values": [0.05,0.1,0.15,0.2,0.25,0.3], "format": ".2f", "title": "OD₆₀₀", "titleFontSize": 20, "titlePadding": 25}}},
 "layer": [
  {"mark": {"type": "line", "color": "#000", "strokeWidth": 1.2}, "encoding": {"x": {"field": "t", "type": "quantitative", "scale": {"domain": [0, 50], "nice": false}, "axis": {"orient": "bottom", "values": [0,10,20,30,40,50], "title": "Incubation time (h)", "titleFontSize": 16, "titlePadding": 14}}, "detail": {"field": "s"}}},
  {"transform": [{"filter": "datum.e > 0"}], "mark": {"type": "errorbar", "ticks": {"size": 8}, "thickness": 1}, "encoding": {"x": {"field": "t", "type": "quantitative", "scale": {"domain": [0, 50], "nice": false}, "axis": null}, "yError": {"field": "e"}, "color": {"field": "s", "type": "nominal", "scale": {"domain": ["G","R","W"], "range": ["#8a8a8a","#555555","#000000"]}, "legend": null}}},
  {"mark": {"type": "point", "shape": "square", "filled": true, "size": 58, "opacity": 1, "stroke": "#222", "strokeWidth": 1},
   "encoding": {"x": {"field": "t", "type": "quantitative", "scale": {"domain": [0, 50], "nice": false}, "axis": {"orient": "top", "title": "Caspofungin", "domain": false, "ticks": false, "labels": false, "titleFontSize": 16, "titlePadding": 16}},
    "fill": {"field": "s", "type": "nominal", "scale": {"domain": ["W","R","G"], "range": ["#000000","#e8191e","#d3d3d3"]}, "legend": null}}}
 ]},
{"width": 246, "height": 164,
 "title": {"text": "H", "dx": -36, "dy": 8},
 "transform": [{"filter": "datum.p === 'H'"}],
 "resolve": {"axis": {"x": "independent"}},
 "encoding": {"y": {"field": "m", "type": "quantitative", "scale": {"domain": [0.2, 1.2], "nice": false, "zero": false}, "axis": {"values": [0.2,0.4,0.6,0.8,1.0,1.2], "format": ".1f", "title": null}}},
 "layer": [
  {"mark": {"type": "line", "color": "#000", "strokeWidth": 1.2}, "encoding": {"x": {"field": "t", "type": "quantitative", "scale": {"domain": [0, 50], "nice": false}, "axis": {"orient": "bottom", "values": [0,10,20,30,40,50], "title": "Incubation time (h)", "titleFontSize": 16, "titlePadding": 14}}, "detail": {"field": "s"}}},
  {"transform": [{"filter": "datum.e > 0"}], "mark": {"type": "errorbar", "ticks": {"size": 8}, "thickness": 1}, "encoding": {"x": {"field": "t", "type": "quantitative", "scale": {"domain": [0, 50], "nice": false}, "axis": null}, "yError": {"field": "e"}, "color": {"field": "s", "type": "nominal", "scale": {"domain": ["G","R","W"], "range": ["#8a8a8a","#555555","#000000"]}, "legend": null}}},
  {"mark": {"type": "point", "shape": "square", "filled": true, "size": 58, "opacity": 1, "stroke": "#222", "strokeWidth": 1},
   "encoding": {"x": {"field": "t", "type": "quantitative", "scale": {"domain": [0, 50], "nice": false}, "axis": {"orient": "top", "title": "FK506", "domain": false, "ticks": false, "labels": false, "titleFontSize": 16, "titlePadding": 16}},
    "fill": {"field": "s", "type": "nominal", "scale": {"domain": ["W","R","G"], "range": ["#000000","#e8191e","#d3d3d3"]}, "legend": null}}}
 ]}
]
}
